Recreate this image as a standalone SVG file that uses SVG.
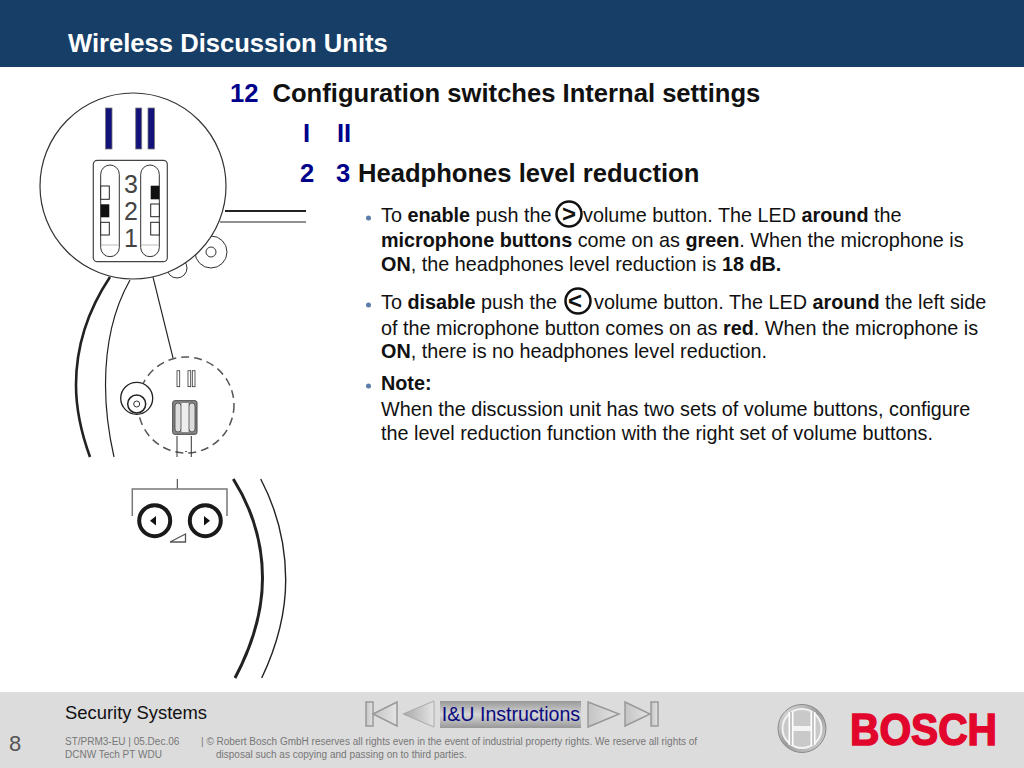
<svg xmlns="http://www.w3.org/2000/svg" width="1024" height="768" viewBox="0 0 1024 768">
<defs>
<style>
text{font-family:"Liberation Sans",Arial,sans-serif}
.t{font-size:19.8px;fill:#111}
.b{font-weight:bold}
.h{font-size:25.6px;font-weight:bold;fill:#111}
.n{font-size:25.6px;font-weight:bold;fill:#00008b}
.s{font-size:10px;fill:#777}
.bul{fill:#5c7cab}
.nav{fill:url(#ng);stroke:#999;stroke-width:1.5}
.key{fill:#fff;stroke:#222;stroke-width:1}
.cnt{fill:#fff;stroke:#333;stroke-width:1}
.rd{fill:#12127a;stroke:#777;stroke-width:.8}
</style>
<linearGradient id="ng" x1="0" x2="1" y1="0" y2="0"><stop offset="0" stop-color="#c4c4c4"/><stop offset="1" stop-color="#e4e4e4"/></linearGradient>
<linearGradient id="ngr" x1="0" x2="1" y1="0" y2="0"><stop offset="0" stop-color="#a8a8a8"/><stop offset="1" stop-color="#e4e4e4"/></linearGradient>
<linearGradient id="lb" x1="0" x2="0" y1="0" y2="1"><stop offset="0" stop-color="#989898"/><stop offset=".5" stop-color="#d6d6d6"/><stop offset="1" stop-color="#989898"/></linearGradient>
<linearGradient id="ring" x1="0" x2="1" y1="0" y2="1"><stop offset="0" stop-color="#e8e8e8"/><stop offset=".5" stop-color="#9a9a9a"/><stop offset="1" stop-color="#d8d8d8"/></linearGradient>
</defs>
<rect width="1024" height="768" fill="#fff"/>
<g id="header"><rect width="1024" height="67" fill="#163e66"/>
<text x="68" y="52" font-size="25.6" font-weight="bold" fill="#fff">Wireless Discussion Units</text></g>

<g id="device-drawing">
<g fill="none" stroke="#222">
<path d="M110 277C88 310 76 345 76 385C76 410 82 435 90 457" stroke-width="2.6"/>
<path d="M130 280C113 310 105.500 345 105.500 385C105.500 410 109 435 114 457" stroke-width="1.2"/>
<path d="M153 277L173 358" stroke-width="1.1"/>
<path d="M225 211H306" stroke-width="2"/>
<path d="M220 222H306" stroke-width="1"/>
</g>
<circle cx="211" cy="252" r="16" class="cnt"/><circle cx="211" cy="252" r="5" class="cnt"/>
<circle cx="177" cy="268" r="10" class="cnt" stroke-width="1.500"/>
<circle cx="133" cy="186" r="93" fill="#fff" stroke="#333" stroke-width="1.200"/>
<rect x="105.500" y="108" width="6.500" height="41" class="rd"/>
<rect x="135.700" y="108" width="6" height="41" class="rd"/>
<rect x="148" y="108" width="6.500" height="41" class="rd"/>
<rect x="93.300" y="160.300" width="74" height="101.400" rx="4" fill="#fff" stroke="#444" stroke-width="1.200"/>
<rect x="100.700" y="165" width="18.600" height="91.700" rx="9.300" fill="#fff" stroke="#333"/>
<rect x="140.700" y="165" width="18.600" height="91.700" rx="9.300" fill="#fff" stroke="#333"/>
<path d="M101 245H119M141 245H159" stroke="#bbb"/>
<rect x="100.700" y="186" width="8.600" height="13.300" class="key"/>
<rect x="100.700" y="204.300" width="8.600" height="13" fill="#111"/>
<rect x="100.700" y="222.300" width="8.600" height="12.700" class="key"/>
<rect x="150.700" y="185.700" width="8.600" height="13.600" fill="#111"/>
<rect x="150.700" y="204" width="8.600" height="12.700" class="key"/>
<rect x="150.700" y="222.300" width="8.600" height="12.700" class="key"/>
<g font-size="25" fill="#444" text-anchor="middle"><text x="131" y="193">3</text><text x="131" y="220">2</text><text x="131" y="247">1</text></g>

<circle cx="186" cy="405" r="48" fill="none" stroke="#555" stroke-width="1.500" stroke-dasharray="8 5"/>
<circle cx="136.700" cy="398.300" r="16" fill="#fff" stroke="#222" stroke-width="1.300"/>
<circle cx="136.700" cy="404" r="9" fill="none" stroke="#222" stroke-width="1.500"/>
<circle cx="136.700" cy="404" r="3" fill="none" stroke="#333"/>
<rect x="177" y="370.700" width="2.700" height="16" fill="#fff" stroke="#333" stroke-width=".8"/>
<rect x="188" y="370.700" width="2.700" height="16" fill="#fff" stroke="#333" stroke-width=".8"/>
<rect x="192.300" y="370.700" width="2.700" height="16" fill="#fff" stroke="#333" stroke-width=".8"/>
<rect x="172.700" y="400.700" width="24.300" height="33.600" rx="2" fill="#888" stroke="#444"/>
<rect x="175" y="403" width="6" height="29" rx="3" fill="#ddd" stroke="#333" stroke-width=".7"/>
<rect x="189" y="403" width="6" height="29" rx="3" fill="#ddd" stroke="#333" stroke-width=".7"/>
<rect x="181.500" y="403" width="7" height="29" fill="#eee"/>
<path d="M177 436V457M191.300 436V457" stroke="#333" fill="none"/>
<rect x="185" y="451" width="2" height="1" fill="#555"/>

<path d="M177.300 479V489" stroke="#333" fill="none"/>
<path d="M132.300 516V489H227V516" stroke="#777" stroke-width="1.500" fill="none"/>
<circle cx="154.700" cy="520.700" r="15.500" fill="#fff" stroke="#1a1a1a" stroke-width="4"/>
<circle cx="205.300" cy="520.700" r="15.500" fill="#fff" stroke="#1a1a1a" stroke-width="4"/>
<path d="M150 520.700L156 516V525.500Z" fill="#111"/>
<path d="M210 520.700L204 516V525.500Z" fill="#111"/>
<path d="M170 542L185.500 534V542Z" fill="#fff" stroke="#555" stroke-width="1.300"/>
<path d="M233.300 479C254 512 262.500 545 262.500 578C262.500 614 252 646 235 678" fill="none" stroke="#222" stroke-width="3"/>
<path d="M260.700 479C277 510 285.700 545 285.700 580C285.700 616 276 648 261.700 678" fill="none" stroke="#222" stroke-width="1.400"/>
</g>

<g id="heading">
<text x="230" y="102" class="n">12</text><text x="272.500" y="102" class="h">Configuration switches Internal settings</text>
<text x="303" y="142" class="n">I</text><text x="337" y="142" class="n">II</text>
<text x="300" y="182" class="n">2</text><text x="336" y="182" class="n">3</text><text x="358" y="182" class="h">Headphones level reduction</text>
</g>

<g id="body">
<circle cx="368.500" cy="218" r="2.500" class="bul"/>
<text x="381" y="222" class="t">To <tspan class="b">enable</tspan> push the</text>
<circle cx="569" cy="214" r="12.500" fill="none" stroke="#111" stroke-width="2.500"/>
<text x="569" y="222" text-anchor="middle" font-size="24" font-weight="bold" fill="#111">&gt;</text>
<text x="583" y="222" class="t">volume button. The LED <tspan class="b">around</tspan> the</text>
<text x="381" y="247" class="t"><tspan class="b">microphone buttons</tspan> come on as <tspan class="b">green</tspan>. When the microphone is</text>
<text x="381" y="271" class="t"><tspan class="b">ON</tspan>, the headphones level reduction is <tspan class="b">18 dB.</tspan></text>
<circle cx="368.500" cy="305" r="2.500" class="bul"/>
<text x="381" y="309" class="t">To <tspan class="b">disable</tspan> push the</text>
<circle cx="578" cy="301" r="12.500" fill="none" stroke="#111" stroke-width="2.500"/>
<text x="575" y="309" text-anchor="middle" font-size="24" font-weight="bold" fill="#111">&lt;</text>
<text x="594" y="309" class="t">volume button. The LED <tspan class="b">around</tspan> the left side</text>
<text x="381" y="335" class="t">of the microphone button comes on as <tspan class="b">red</tspan>. When the microphone is</text>
<text x="381" y="358" class="t"><tspan class="b">ON</tspan>, there is no headphones level reduction.</text>
<circle cx="368.500" cy="386" r="2.500" class="bul"/>
<text x="381" y="390" class="t b">Note:</text>
<text x="381" y="416" class="t">When the discussion unit has two sets of volume buttons, configure</text>
<text x="381" y="440" class="t">the level reduction function with the right set of volume buttons.</text>
</g>

<g id="footer">
<rect y="692" width="1024" height="76" fill="#dcdcdc"/>
<text x="65" y="719" font-size="18.400" fill="#111">Security Systems</text>
<text x="9" y="751" font-size="22" fill="#555">8</text>
<text x="65" y="745" class="s">ST/PRM3-EU | 05.Dec.06</text>
<text x="65" y="758" class="s">DCNW Tech PT WDU</text>
<text x="201" y="745" class="s">| © Robert Bosch GmbH reserves all rights even in the event of industrial property rights. We reserve all rights of</text>
<text x="216" y="758" class="s">disposal such as copying and passing on to third parties.</text>
</g>

<g id="nav-first"><rect x="366" y="702" width="7" height="24" class="nav"/><path d="M373 714L397 702V726Z" class="nav"/></g>
<g id="nav-prev"><path d="M403 714L434 701V727Z" fill="url(#ngr)" stroke="#aaa"/></g>
<g id="nav-label"><rect x="440" y="701" width="141" height="27" fill="url(#lb)"/>
<text x="511" y="720.500" text-anchor="middle" font-size="19.600" fill="#0a0a80">I&amp;U Instructions</text></g>
<g id="nav-next"><path d="M588 702L619 714L588 727Z" class="nav"/></g>
<g id="nav-last"><path d="M625 702L650 714L625 726Z" class="nav"/><rect x="651" y="702" width="7" height="24" class="nav"/></g>

<g id="logo">
<circle cx="802" cy="728.500" r="24" fill="url(#ring)" stroke="#8a8a8a"/>
<circle cx="802" cy="728.500" r="19.500" fill="#c9c9c9" stroke="#f2f2f2" stroke-width="2"/>
<path d="M791 712V745M813 712V745" stroke="#fff" stroke-width="5" fill="none"/>
<path d="M791 712V745M813 712V745" stroke="#8c8c8c" stroke-width="1" fill="none"/>
<path d="M793 728.500H811" stroke="#f4f4f4" stroke-width="5" fill="none"/>
<text x="850" y="744.500" font-size="45" font-weight="bold" fill="#e2062c" stroke="#e2062c" stroke-width="1.600" textLength="147" lengthAdjust="spacingAndGlyphs">BOSCH</text>
</g>
</svg>
